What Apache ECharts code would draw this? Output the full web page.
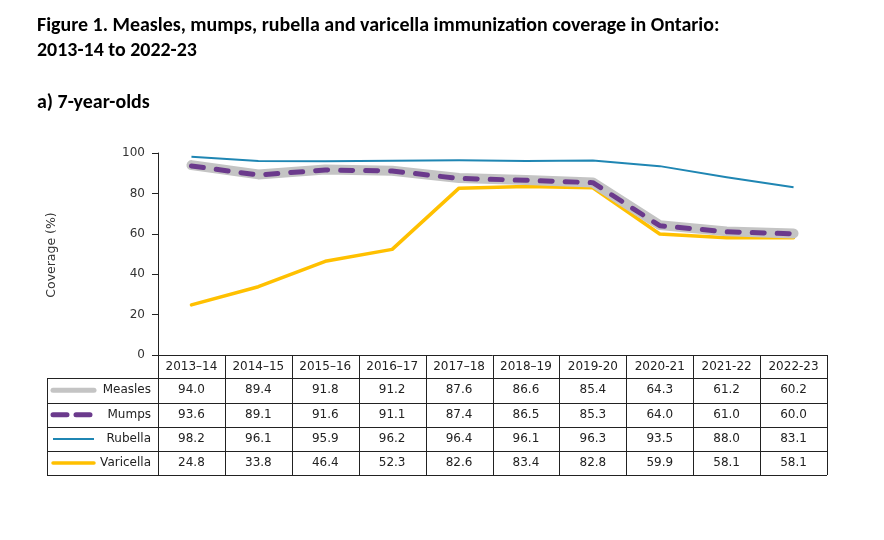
<!DOCTYPE html>
<html>
<head>
<meta charset="utf-8">
<script src="https://cdn.jsdelivr.net/npm/echarts@6/dist/echarts.min.js"></script>
<style>html,body{margin:0;padding:0;background:#fff}#c{width:884px;height:540px}</style>
</head>
<body>
<div id="c"></div>
<script>
const categories = ['2013–14','2014–15','2015–16','2016–17','2017–18','2018–19','2019-20','2020-21','2021-22','2022-23'];
const measles   = [94.0, 89.4, 91.8, 91.2, 87.6, 86.6, 85.4, 64.3, 61.2, 60.2];
const mumps     = [93.6, 89.1, 91.6, 91.1, 87.4, 86.5, 85.3, 64.0, 61.0, 60.0];
const rubella   = [98.2, 96.1, 95.9, 96.2, 96.4, 96.1, 96.3, 93.5, 88.0, 83.1];
const varicella = [24.8, 33.8, 46.4, 52.3, 82.6, 83.4, 82.8, 59.9, 58.1, 58.1];
const seriesNames = ['Measles','Mumps','Rubella','Varicella'];
const yMin = 0, yMax = 100, yStep = 20;
const titleLine1 = 'Figure 1. Measles, mumps, rubella and varicella immunization coverage in Ontario:';
const titleLine2 = '2013-14 to 2022-23';
const subTitle = 'a) 7-year-olds';

// pick an available condensed-ish sans font and size the title to the reference width
const cv = document.createElement('canvas').getContext('2d');
function w(font){ cv.font = font; return cv.measureText(titleLine1).width; }
const candidates = ['Carlito','DejaVu Sans Condensed','Liberation Sans Narrow','Open Sans','Liberation Sans'];
let TF = 'Liberation Sans';
for (const f of candidates){
  if (Math.abs(w('bold 18px "'+f+'", monospace') - w('bold 18px monospace')) > 1 &&
      Math.abs(w('bold 18px "'+f+'", serif') - w('bold 18px serif')) > 1){ TF = f; break; }
}
const titleSize = Math.min(20, 18 * 683 / w('bold 18px "'+TF+'"'));

const C = {measles:'#c4c4c4', mumps:'#6b3a8c', rubella:'#1f86b3', varicella:'#ffc000'};
const FONT = 'DejaVu Sans';
const styles = {
  Measles:   {stroke:C.measles, lineWidth:10, lineCap:'round'},
  Mumps:     {stroke:C.mumps, lineWidth:5, lineCap:'round', lineDash:[12,13]},
  Rubella:   {stroke:C.rubella, lineWidth:2},
  Varicella: {stroke:C.varicella, lineWidth:3.5, lineCap:'round'}
};
const legendStyles = {
  Measles:   {stroke:C.measles, lineWidth:5, lineCap:'round'},
  Mumps:     {stroke:C.mumps, lineWidth:5, lineCap:'round', lineDash:[14,9]},
  Rubella:   {stroke:C.rubella, lineWidth:2},
  Varicella: {stroke:C.varicella, lineWidth:3.5, lineCap:'round'}
};

const chart = echarts.init(document.getElementById('c'), null, {renderer:'canvas'});
function lineSeries(name, data, st, z){
  return {name, type:'line', data, symbol:'none', z,
    lineStyle:{color:st.stroke, width:st.lineWidth, cap:st.lineCap||'butt', join:'round', type: st.lineDash||'solid'},
    emphasis:{disabled:true}};
}
chart.setOption({
  animation:false,
  grid:{left:158, right:57, top:153, bottom:185, containLabel:false},
  xAxis:{type:'category', data:categories, boundaryGap:true,
    axisLine:{lineStyle:{color:'#222', width:1}}, axisTick:{show:false}, axisLabel:{show:false}},
  yAxis:{type:'value', min:yMin, max:yMax, interval:yStep,
    axisLine:{show:true, lineStyle:{color:'#222', width:1}},
    axisTick:{show:true, length:6, lineStyle:{color:'#222'}},
    splitLine:{show:false},
    axisLabel:{margin:13, fontFamily:FONT, fontSize:12, color:'#333'}},
  series:[
    lineSeries('Varicella', varicella, styles.Varicella, 2),
    lineSeries('Measles', measles, styles.Measles, 3),
    lineSeries('Mumps', mumps, styles.Mumps, 4),
    lineSeries('Rubella', rubella, styles.Rubella, 5)
  ]
});

// Build data table below the axis
const values = {Measles:measles, Mumps:mumps, Rubella:rubella, Varicella:varicella};
const centers = categories.map((c,i)=>chart.convertToPixel({xAxisIndex:0}, i));
const band = centers.length>1 ? centers[1]-centers[0] : 67;
const xLeftTable = 47, xAxisLeft = centers[0]-band/2, xRight = centers[centers.length-1]+band/2;
const yTop = chart.convertToPixel({yAxisIndex:0}, 0);
const rowLines = [yTop, 378, 402.5, 427, 451, 475];
const g = [];
const border = {stroke:'#222', lineWidth:1};
function hline(x1,x2,y){ g.push({type:'line', shape:{x1,y1:Math.round(y)+0.5,x2,y2:Math.round(y)+0.5}, style:border, silent:true, z:10}); }
function vline(x,y1,y2){ g.push({type:'line', shape:{x1:Math.round(x)+0.5,y1,x2:Math.round(x)+0.5,y2}, style:border, silent:true, z:10}); }
for(let r=1;r<rowLines.length;r++) hline(xLeftTable, xRight, rowLines[r]);
vline(xLeftTable, rowLines[1], rowLines[5]);
for(let i=0;i<=categories.length;i++) vline(xAxisLeft+band*i, yTop, rowLines[5]);
categories.forEach((c,i)=>{
  g.push({type:'text', x:centers[i], y:(rowLines[0]+rowLines[1])/2+0.5, style:{text:c, font:'12px "'+FONT+'"', fill:'#222', align:'center', verticalAlign:'middle'}, z:11});
});
seriesNames.forEach((name,r)=>{
  const yc = (rowLines[r+1]+rowLines[r+2])/2;
  const ls = legendStyles[name];
  g.push({type:'line', shape:{x1:53, y1:yc, x2:94, y2:yc}, style:Object.assign({}, ls), z:11});
  g.push({type:'text', x:151, y:yc, style:{text:name, font:'12px "'+FONT+'"', fill:'#222', align:'right', verticalAlign:'middle'}, z:11});
  values[name].forEach((v,i)=>{
    g.push({type:'text', x:centers[i], y:yc, style:{text:v.toFixed(1), font:'12px "'+FONT+'"', fill:'#222', align:'center', verticalAlign:'middle'}, z:11});
  });
});
g.push({type:'text', x:52, y:255, rotation:Math.PI/2, style:{text:'Coverage (%)', font:'12.5px "'+FONT+'"', fill:'#333', align:'center', verticalAlign:'middle'}, z:11});
const tFont = 'bold ' + titleSize.toFixed(2) + 'px "' + TF + '"';
g.push({type:'text', x:37, y:26, style:{text:titleLine1, font:tFont, fill:'#000', align:'left', verticalAlign:'middle'}, z:11});
g.push({type:'text', x:37, y:51, style:{text:titleLine2, font:tFont, fill:'#000', align:'left', verticalAlign:'middle'}, z:11});
g.push({type:'text', x:37, y:103, style:{text:subTitle, font:tFont, fill:'#000', align:'left', verticalAlign:'middle'}, z:11});
chart.setOption({graphic:g});
</script>
</body>
</html>
